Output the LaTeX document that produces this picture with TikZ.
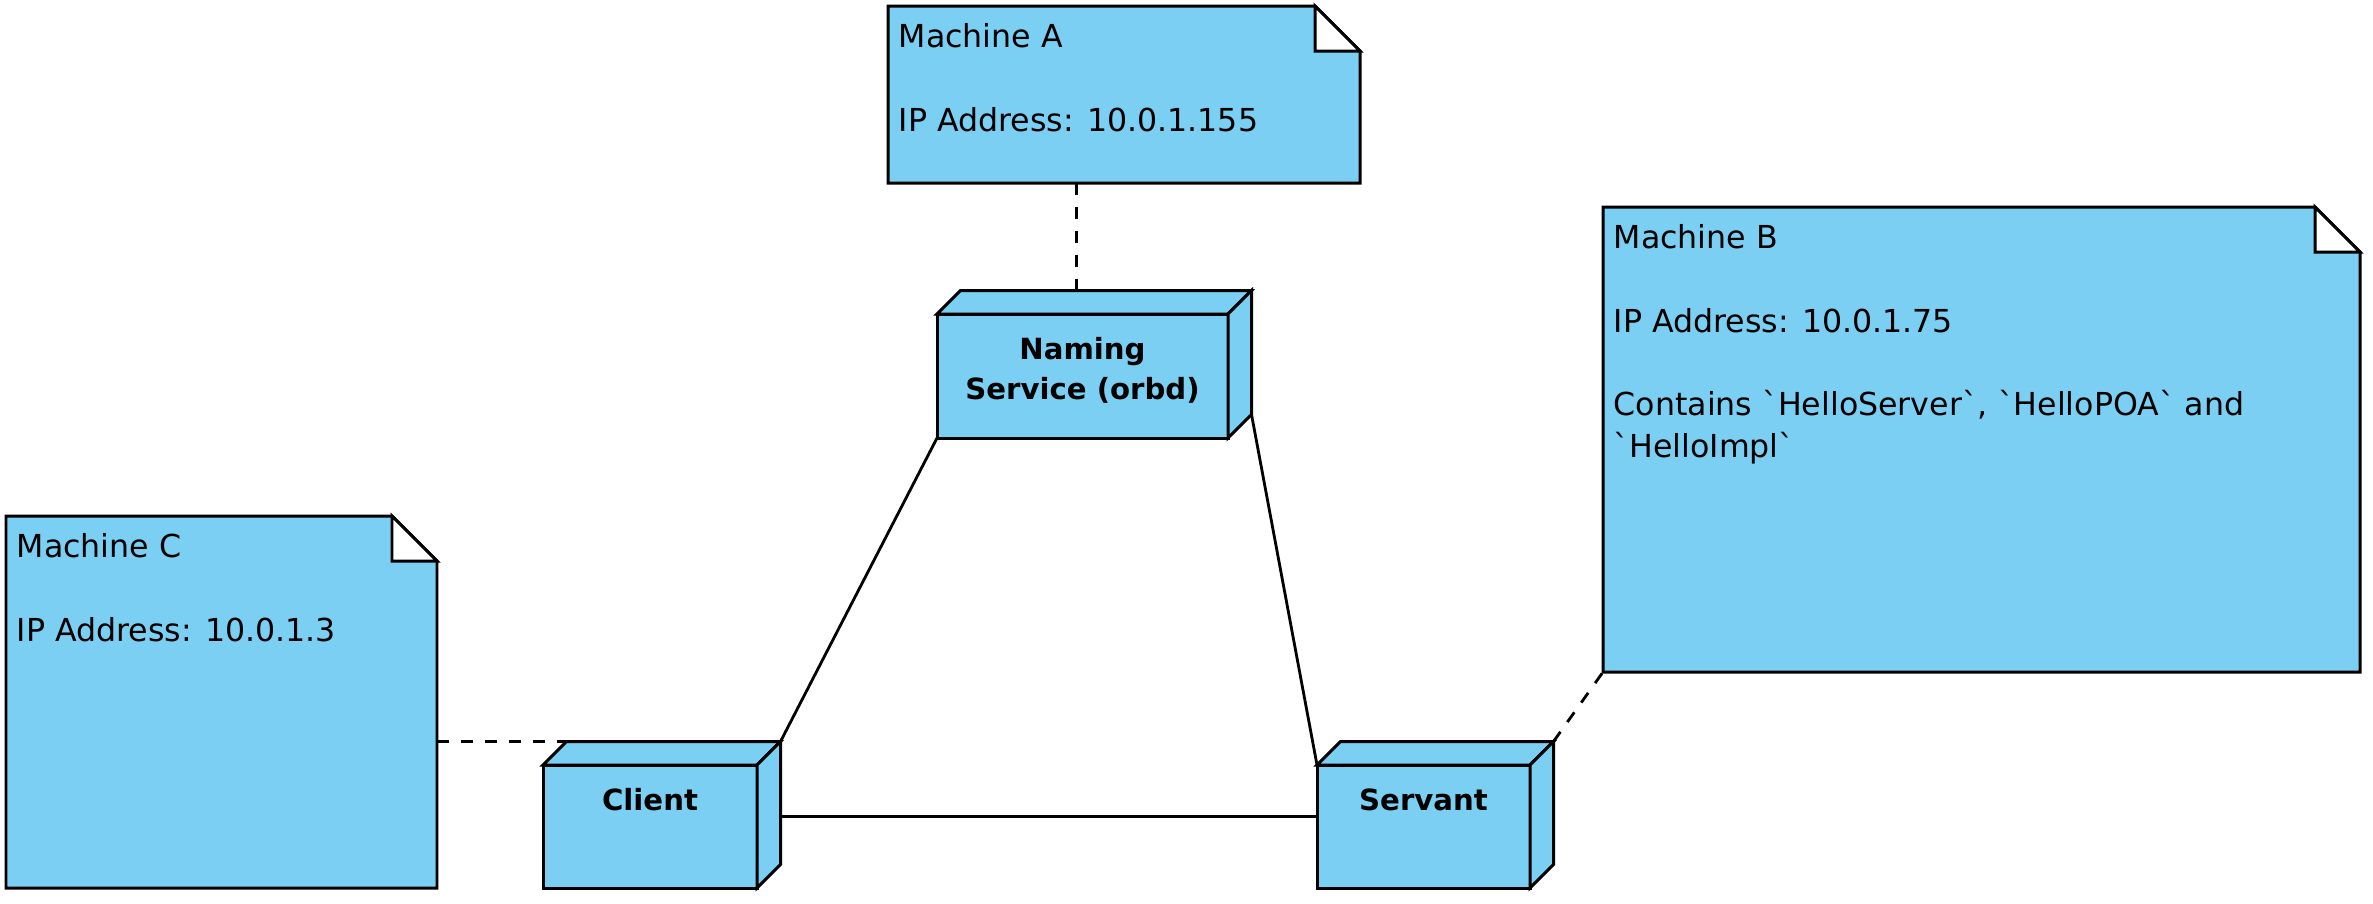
\documentclass[tikz,border=0pt]{standalone}
\usepackage{fontspec}
\setmainfont{DejaVu Sans}[Ligatures=TeXOff]
\usetikzlibrary{calc,positioning}

\definecolor{nodeblue}{RGB}{122,207,243}

\tikzset{
  outline/.style={draw=black, fill=nodeblue, line width=0.85pt, line join=miter},
  notebox/.style={draw=none, inner sep=0pt, outer sep=0pt, anchor=north west},
  devbox/.style={outline, inner sep=0pt, outer sep=0pt, anchor=north west},
  notetext/.style={inner sep=0pt, align=left, font=\fontsize{9}{11.87}\selectfont},
  devtext/.style={inner sep=0pt, align=center, font=\bfseries\fontsize{8.3}{11.4}\selectfont},
  link/.style={line width=0.8pt},
  dep/.style={link, dash pattern=on 3.4pt off 3.4pt}
}

\begin{document}
\begin{tikzpicture}
  \useasboundingbox (0,0) rectangle (23.73,-9.03);

  % notes
  \foreach \n/\x/\y/\w/\h in {macA/8.88/-0.06/4.72/1.77, macB/16.03/-2.07/7.57/4.65, macC/0.06/-5.16/4.31/3.72}{
    \node[notebox, minimum width=\w cm, minimum height=\h cm] (\n) at (\x,\y) {};
    \draw[outline] (\n.north west) -- ($(\n.north east)+(-0.45,0)$) -- ($(\n.north east)+(0,-0.45)$) -- (\n.south east) -- (\n.south west) -- cycle;
    \draw[outline, fill=white] ($(\n.north east)+(-0.45,0)$) -- ($(\n.north east)+(-0.45,-0.45)$) -- ($(\n.north east)+(0,-0.45)$) -- cycle;
  }

  \foreach \n/\t in {macA/{Machine A\\\mbox{}\\IP Address: 10.0.1.155},
                     macB/{Machine B\\\mbox{}\\IP Address: 10.0.1.75\\\mbox{}\\Contains `HelloServer`, `HelloPOA` and\\`HelloImpl`},
                     macC/{Machine C\\\mbox{}\\IP Address: 10.0.1.3}}{
    \node[notetext, below right=0.17cm and 0.10cm of \n.north west] {\t};
  }

  % nodes
  \foreach \n/\x/\y/\w/\h/\t in {naming/9.37/-3.14/2.91/1.24/{Naming\\Service (orbd)}, client/5.43/-7.65/2.14/1.23/Client, servant/13.17/-7.65/2.13/1.23/Servant}{
    \node[devbox, minimum width=\w cm, minimum height=\h cm] (\n) at (\x,\y) {};
    \coordinate (\n-bnw) at ($(\n.north west)+(0.235,0.235)$);
    \coordinate (\n-bne) at ($(\n.north east)+(0.235,0.235)$);
    \coordinate (\n-bse) at ($(\n.south east)+(0.235,0.235)$);
    \draw[outline] (\n.north west) -- (\n-bnw) -- (\n-bne) -- (\n.north east) -- cycle;
    \draw[outline] (\n.north east) -- (\n-bne) -- (\n-bse) -- (\n.south east) -- cycle;
    \node[devtext, below=0.23cm of \n.north] {\t};
  }

  % links
  \draw[dep] ($(macA.south west)!0.4!(macA.south east)$) coordinate (a1) -- (a1 |- naming-bnw);
  \draw[dep] (macC.east |- client-bnw) -- (client-bnw);
  \draw[dep] (servant-bne) -- (macB.south west);
  \draw[link] (naming.south west) -- (client-bne);
  \draw[link] (naming-bse) -- (servant.north west);
  \draw[link] ($(client.east)+(0.235,0.1)$) -- ($(servant.west)+(0,0.1)$);
\end{tikzpicture}
\end{document}
